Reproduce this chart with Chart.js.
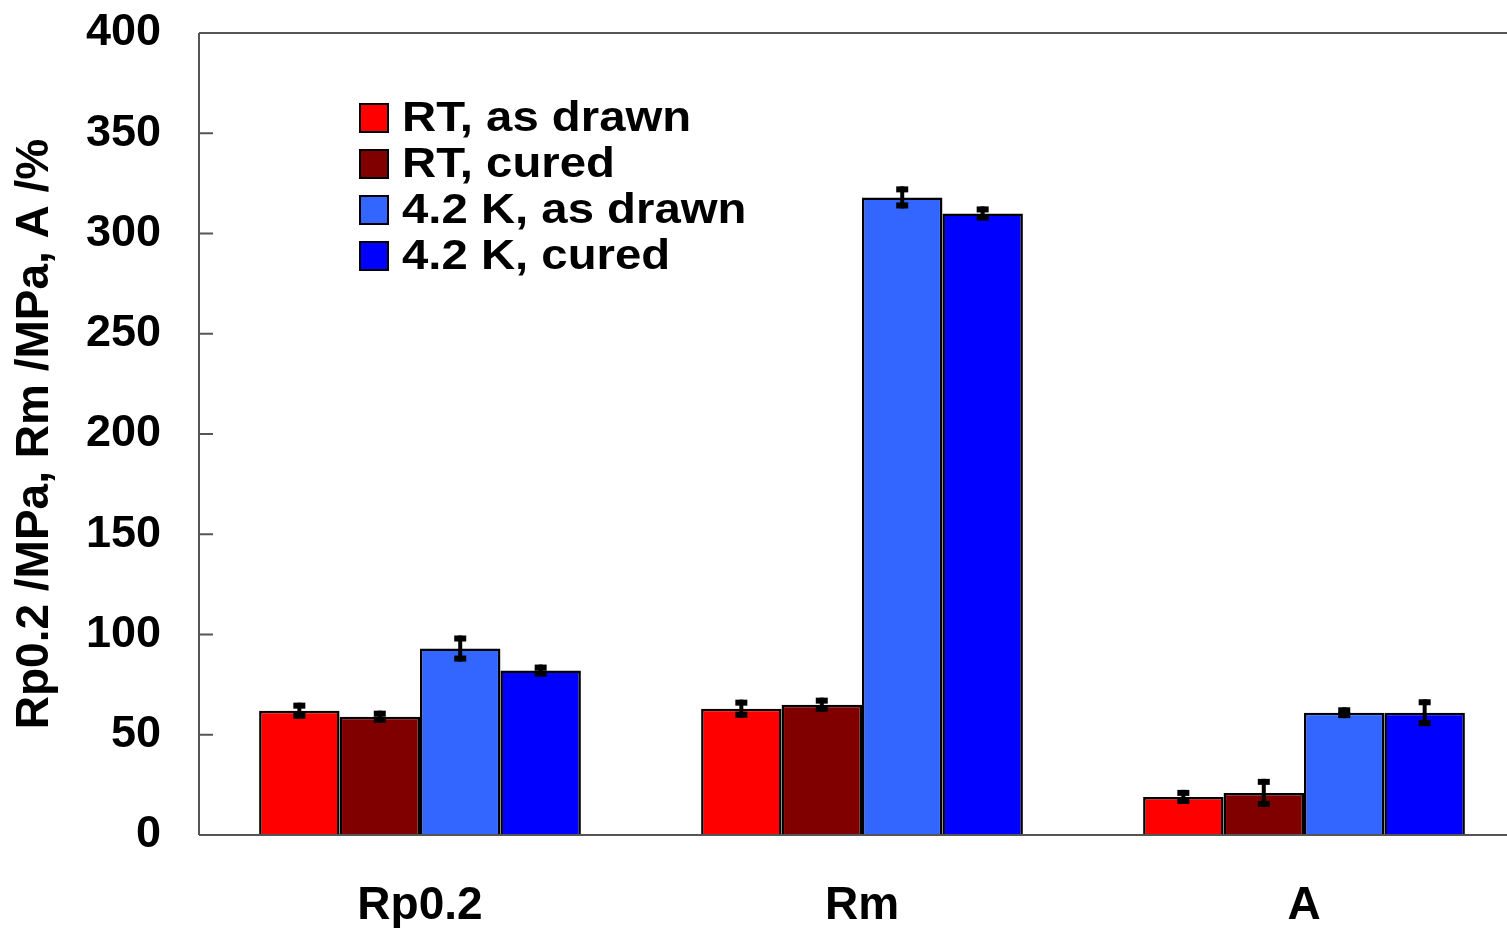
<!DOCTYPE html>
<html>
<head>
<meta charset="utf-8">
<script src="https://cdn.jsdelivr.net/npm/chart.js@4.4.1/dist/chart.umd.min.js"></script>
<style>
html,body{margin:0;padding:0;background:#fff;overflow:hidden;}
#wrap{position:absolute;left:0;top:0;width:1525px;height:928px;}
</style>
</head>
<body>
<div id="wrap"><canvas id="c" width="1525" height="928"></canvas></div>
<script>
const categories = ["Rp0.2", "Rm", "A"];
const seriesLabels = ["RT, as drawn", "RT, cured", "4.2 K, as drawn", "4.2 K, cured"];
const rtAsDrawn = [62, 63, 19];
const rtCured = [59, 65, 21];
const k42AsDrawn = [93, 318, 61];
const k42Cured = [82, 310, 61];
const rtAsDrawnErr = [4, 4.5, 3.5];
const rtCuredErr = [3, 3.5, 7];
const k42AsDrawnErr = [6.5, 5.5, 2.7];
const k42CuredErr = [3, 3.5, 6.7];
const yTicks = [0, 50, 100, 150, 200, 250, 300, 350, 400];

const colors = ["#FF0000", "#800000", "#3366FF", "#0000FF"];
const values = [rtAsDrawn, rtCured, k42AsDrawn, k42Cured];
const errors = [rtAsDrawnErr, rtCuredErr, k42AsDrawnErr, k42CuredErr];

const FONT = "'Liberation Sans', Arial, sans-serif";

const errorBars = {
  id: 'errorBars',
  afterDatasetsDraw(chart) {
    const ctx = chart.ctx;
    const y = chart.scales.y;
    ctx.save();
    ctx.fillStyle = '#000';
    ctx.strokeStyle = '#000';
    chart.data.datasets.forEach((ds, i) => {
      const meta = chart.getDatasetMeta(i);
      meta.data.forEach((bar, j) => {
        const v = ds.data[j], e = errors[i][j];
        const yt = y.getPixelForValue(v + e), yb = y.getPixelForValue(v - e);
        const x = bar.x;
        ctx.lineWidth = 4;
        ctx.beginPath();
        ctx.moveTo(x, yt); ctx.lineTo(x, yb); ctx.stroke();
        ctx.fillRect(x - 6, yt, 12, 6);
        ctx.fillRect(x - 6, yb - 6, 12, 6);
      });
    });
    ctx.restore();
  }
};

const frame = {
  id: 'frame',
  afterDraw(chart) {
    const ctx = chart.ctx;
    const a = chart.chartArea;
    const y = chart.scales.y;
    ctx.save();
    ctx.strokeStyle = '#555';
    ctx.lineWidth = 2;
    ctx.beginPath();
    ctx.moveTo(a.left, a.top); ctx.lineTo(a.right, a.top);
    ctx.moveTo(a.left, a.top); ctx.lineTo(a.left, a.bottom);
    ctx.moveTo(a.left, a.bottom); ctx.lineTo(a.right, a.bottom);
    yTicks.forEach(t => {
      const py = y.getPixelForValue(t);
      ctx.moveTo(a.left, py); ctx.lineTo(a.left + 14, py);
    });
    ctx.stroke();
    // legend
    ctx.font = 'bold 43px ' + FONT;
    ctx.textBaseline = 'middle';
    ctx.textAlign = 'left';
    seriesLabels.forEach((lab, i) => {
      const cy = 118 + i * 46;
      ctx.fillStyle = colors[i];
      ctx.fillRect(360, cy - 14, 28, 28);
      ctx.strokeStyle = '#000';
      ctx.lineWidth = 2;
      ctx.strokeRect(360, cy - 14, 28, 28);
      ctx.fillStyle = '#000';
      ctx.save();
      ctx.translate(402, cy + 1);
      ctx.scale(1.1, 1);
      ctx.fillText(lab, 0, 0);
      ctx.restore();
    });
    ctx.restore();
  }
};

new Chart(document.getElementById('c'), {
  type: 'bar',
  data: {
    labels: categories,
    datasets: values.map((d, i) => ({
      label: seriesLabels[i],
      data: d,
      backgroundColor: colors[i],
      borderColor: '#000',
      borderWidth: 2.5,
      categoryPercentage: 0.728,
      barPercentage: 1.0
    }))
  },
  options: {
    responsive: false,
    animation: false,
    layout: { padding: { top: 33, right: 0, left: 0, bottom: 0 } },
    plugins: { legend: { display: false }, tooltip: { enabled: false } },
    scales: {
      x: {
        grid: { display: false, drawTicks: false },
        border: { display: false },
        ticks: { color: '#000', font: { family: FONT, size: 46, weight: 'bold' }, padding: 44, maxRotation: 0 },
        afterFit(s) { s.height = 93; s.paddingLeft = 0; s.paddingRight = 0; }
      },
      y: {
        min: 0, max: 400,
        afterBuildTicks(s) { s.ticks = yTicks.map(v => ({ value: v })); },
        grid: { display: false, drawTicks: false },
        border: { display: false },
        ticks: { color: '#000', font: { family: FONT, size: 45, weight: 'bold' }, padding: 38 },
        title: { display: true, text: 'Rp0.2 /MPa, Rm /MPa, A /%', color: '#000', font: { family: FONT, size: 46, weight: 'bold' }, padding: { top: 8, bottom: 0 } },
        afterFit(s) { s.width = 199; s.paddingTop = 0; s.paddingBottom = 0; }
      }
    }
  },
  plugins: [errorBars, frame]
});
</script>
</body>
</html>
